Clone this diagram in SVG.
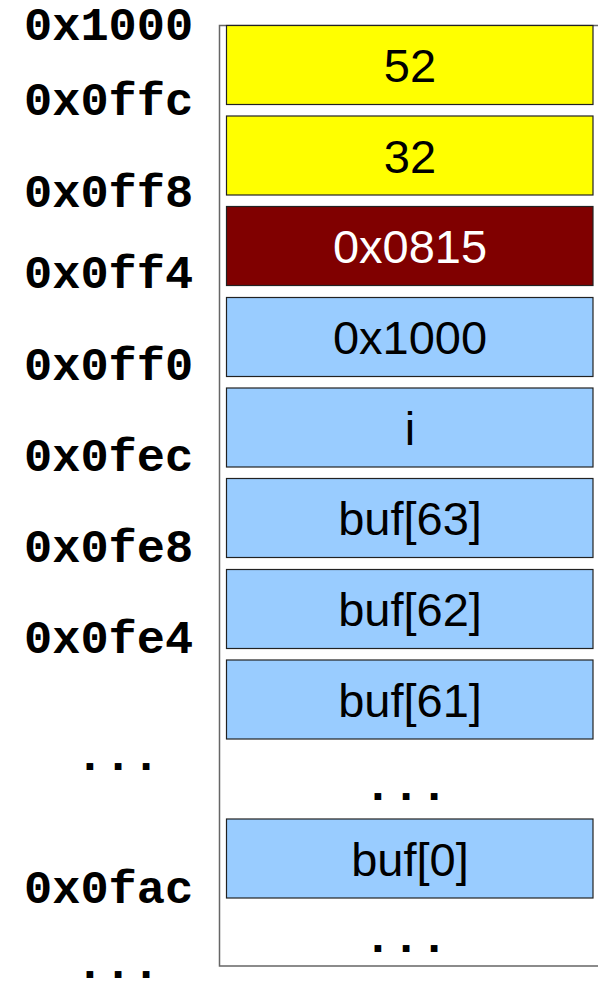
<svg xmlns="http://www.w3.org/2000/svg" width="598" height="982" viewBox="0 0 598 982">
<style>
.addr{font-family:"Liberation Mono","Courier New",monospace;font-weight:bold;font-size:47px;fill:#000}
.cell{stroke:#222;stroke-width:1.2}
.val{font-family:"Liberation Sans",Arial,sans-serif;font-size:47px;text-anchor:middle;fill:#000}
.dots{font-family:"Liberation Mono","Courier New",monospace;font-weight:bold;font-size:47px;text-anchor:middle;fill:#000}
</style>
<rect width="598" height="982" fill="#fff"/>
<g id="frame"><path d="M598,25.5 H219.5 V966 H598" fill="none" stroke="#666" stroke-width="1.5"/></g>
<g id="addresses">
<text class="addr" x="24" y="40">0x1000</text>
<text class="addr" x="24" y="115">0x0ffc</text>
<text class="addr" x="24" y="207">0x0ff8</text>
<text class="addr" x="24" y="288">0x0ff4</text>
<text class="addr" x="24" y="380">0x0ff0</text>
<text class="addr" x="24" y="471">0x0fec</text>
<text class="addr" x="24" y="562">0x0fe8</text>
<text class="addr" x="24" y="653">0x0fe4</text>
<text class="dots" x="118" y="770">...</text>
<text class="addr" x="24" y="903">0x0fac</text>
<text class="dots" x="118" y="978">...</text>
</g>
<g id="n52"><rect class="cell" x="226.5" y="25.5" width="366.5" height="79" fill="#ffff00"/><text class="val" x="410" y="82">52</text></g>
<g id="n32"><rect class="cell" x="226.5" y="116" width="366.5" height="79" fill="#ffff00"/><text class="val" x="410" y="173">32</text></g>
<g id="n0815"><rect class="cell" x="226.5" y="206.5" width="366.5" height="79" fill="#800000"/><text class="val" x="410" y="263" style="fill:#fff">0x0815</text></g>
<g id="n1000"><rect class="cell" x="226.5" y="297.5" width="366.5" height="79" fill="#99ccff"/><text class="val" x="410" y="354">0x1000</text></g>
<g id="ni"><rect class="cell" x="226.5" y="388" width="366.5" height="79" fill="#99ccff"/><text class="val" x="410" y="445">i</text></g>
<g id="nbuf63"><rect class="cell" x="226.5" y="478.5" width="366.5" height="79" fill="#99ccff"/><text class="val" x="410" y="535">buf[63]</text></g>
<g id="nbuf62"><rect class="cell" x="226.5" y="569.5" width="366.5" height="79" fill="#99ccff"/><text class="val" x="410" y="626">buf[62]</text></g>
<g id="nbuf61"><rect class="cell" x="226.5" y="660" width="366.5" height="79" fill="#99ccff"/><text class="val" x="410" y="717">buf[61]</text></g>
<g id="ndots1"><text class="dots" x="406" y="800">...</text></g>
<g id="nbuf0"><rect class="cell" x="226.5" y="819" width="366.5" height="79" fill="#99ccff"/><text class="val" x="410" y="876">buf[0]</text></g>
<g id="ndots2"><text class="dots" x="406" y="952">...</text></g>
<g id="connectors"></g>
</svg>
